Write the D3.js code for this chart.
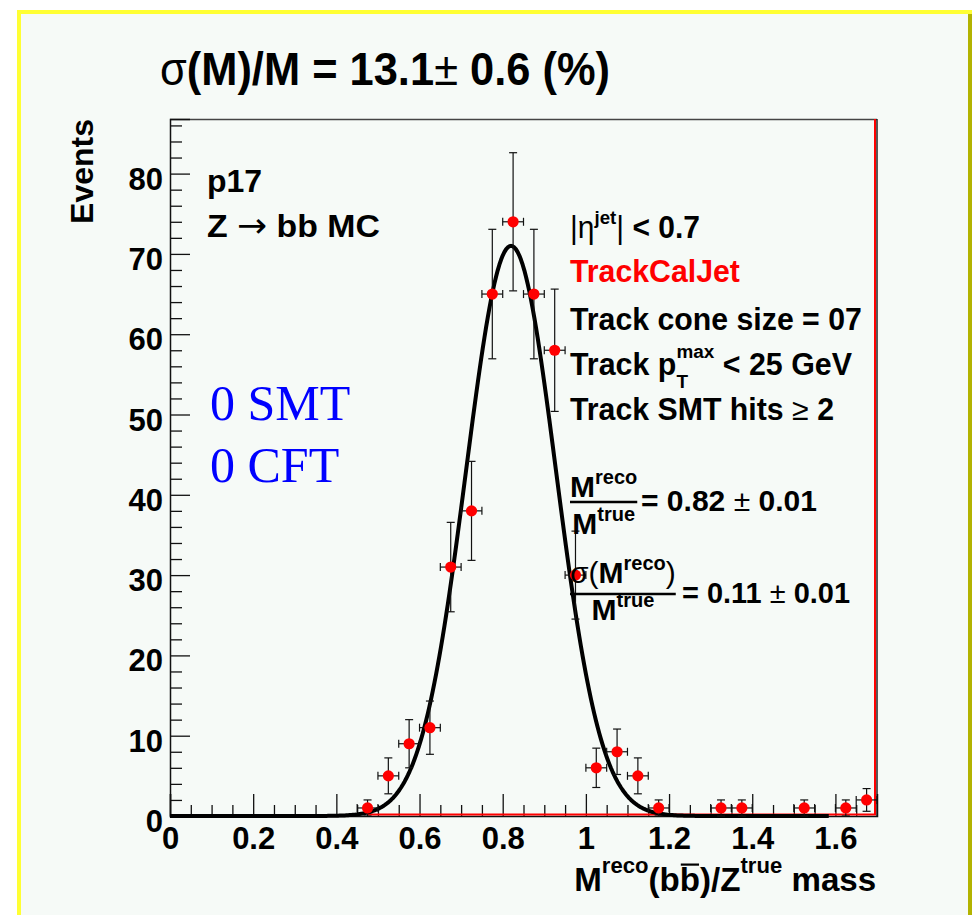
<!DOCTYPE html>
<html>
<head>
<meta charset="utf-8">
<script src="https://cdn.jsdelivr.net/npm/d3@7"></script>
<style>
  html, body { margin: 0; padding: 0; background: #ffffff; }
  svg { display: block; }
  text { white-space: pre; }
</style>
</head>
<body>
<svg id="chart" width="972" height="915"></svg>
<script>
// Reconstructed dijet mass ratio, Z -> bb MC, 0.05-wide bins
const binCenters = [0.475, 0.525, 0.575, 0.625, 0.675, 0.725, 0.775, 0.825, 0.875, 0.925,
                    0.975, 1.025, 1.075, 1.125, 1.175, 1.325, 1.375, 1.525, 1.625, 1.675];
const counts     = [1, 5, 9, 11, 31, 38, 65, 74, 65, 58,
                    30, 6, 8, 5, 1, 1, 1, 1, 1, 2];
const binHalfWidth = 0.025;

// Gaussian fit parameters
const fitAmplitude = 71;
const fitMean = 0.82;
const fitSigma = 0.108;
const fitRange = [0, 1.585];

// Axis ticks
const yMajorTicks = [0, 10, 20, 30, 40, 50, 60, 70, 80];
const yTickLabels = ["0", "10", "20", "30", "40", "50", "60", "70", "80"];
const xMajorTicks = [0, 0.2, 0.4, 0.6, 0.8, 1.0, 1.2, 1.4, 1.6];
const xTickLabels = ["0", "0.2", "0.4", "0.6", "0.8", "1", "1.2", "1.4", "1.6"];
const yMinorTicks = d3.range(2, 87, 2).filter(v => v % 10 !== 0);
const xMinorTicks = d3.range(1, 34).map(i => i * 0.05).filter(v => Math.abs(v * 5 - Math.round(v * 5)) > 1e-6);

const svg = d3.select("#chart");
const SANS = '"Liberation Sans", Arial, Helvetica, sans-serif';
const SERIF = '"Liberation Serif", "Times New Roman", serif';

// Canvas panel with bevelled border
svg.append("rect").attr("x", 17).attr("y", 10).attr("width", 955).attr("height", 905).attr("fill", "#f6faf7");
svg.append("line").attr("x1", 17).attr("x2", 972).attr("y1", 12).attr("y2", 12).attr("stroke", "#ffff33").attr("stroke-width", 4);
svg.append("line").attr("x1", 19).attr("x2", 19).attr("y1", 10).attr("y2", 915).attr("stroke", "#ffff33").attr("stroke-width", 4);
svg.append("line").attr("x1", 970).attr("x2", 970).attr("y1", 14).attr("y2", 915).attr("stroke", "#b3b300").attr("stroke-width", 4);

const x = d3.scaleLinear().domain([0, 1.7]).range([170, 877]);
const y = d3.scaleLinear().domain([0, 86.8]).range([816, 119]);

// Frame
svg.append("line").attr("x1", 170).attr("x2", 877).attr("y1", 119.5).attr("y2", 119.5).attr("stroke", "#444").attr("stroke-width", 1.5);
svg.append("line").attr("x1", 877).attr("x2", 877).attr("y1", 119).attr("y2", 817).attr("stroke", "#222").attr("stroke-width", 1.5);

// Y axis (ticks point into the plot)
const yAxisMajor = d3.axisLeft(y).tickValues(yMajorTicks).tickSize(-20).tickPadding(7)
  .tickFormat((d, i) => yTickLabels[i]);
const yAxisMinor = d3.axisLeft(y).tickValues(yMinorTicks).tickSize(-12).tickFormat("");
const gy = svg.append("g").attr("transform", "translate(170,0)").call(yAxisMajor);
svg.append("g").attr("transform", "translate(170,0)").call(yAxisMinor).select(".domain").remove();
gy.select(".domain").attr("stroke", "#111").attr("stroke-width", 1.5);
gy.selectAll(".tick text").style("font-family", SANS).attr("font-size", 31).attr("font-weight", "bold")
  .attr("fill", "#000").attr("dy", "0.5em");

// X axis
const xAxisMajor = d3.axisBottom(x).tickValues(xMajorTicks).tickSize(-22).tickPadding(11)
  .tickFormat((d, i) => xTickLabels[i]);
const xAxisMinor = d3.axisBottom(x).tickValues(xMinorTicks).tickSize(-11).tickFormat("");
const gx = svg.append("g").attr("transform", "translate(0,816)").call(xAxisMajor);
svg.append("g").attr("transform", "translate(0,816)").call(xAxisMinor).select(".domain").remove();
gx.select(".domain").attr("stroke", "#111").attr("stroke-width", 1.5);
gx.selectAll(".tick text").style("font-family", SANS).attr("font-size", 31).attr("font-weight", "bold").attr("fill", "#000");
svg.selectAll(".tick line").attr("stroke", "#111").attr("stroke-width", 1.3);

// Histogram outline (red) along the baseline and right edge
svg.append("path")
  .attr("d", `M${x(binCenters[0])},${y(0) - 1.5}H${x(1.7) - 2}V${y(86.8)}`)
  .attr("fill", "none").attr("stroke", "#ff0000").attr("stroke-width", 2);

// Gaussian fit curve
const fitX = d3.range(fitRange[0], fitRange[1] + 1e-9, 0.004);
const gauss = v => fitAmplitude * Math.exp(-((v - fitMean) ** 2) / (2 * fitSigma * fitSigma));
svg.append("path")
  .datum(fitX)
  .attr("d", d3.line().x(d => x(d)).y(d => y(gauss(d))))
  .attr("fill", "none").attr("stroke", "#000").attr("stroke-width", 4).attr("stroke-linejoin", "round");

// Data points with Poisson errors
const pts = binCenters.map((c, i) => ({ c, n: counts[i], e: Math.sqrt(counts[i]) }));
const eg = svg.append("g").attr("stroke", "#111").attr("stroke-width", 1.2);
pts.forEach(p => {
  const cx = x(p.c), cy = y(p.n);
  const yt = y(p.n + p.e), yb = y(Math.max(0, p.n - p.e));
  const xl = x(p.c - binHalfWidth), xr = x(p.c + binHalfWidth);
  eg.append("line").attr("x1", cx).attr("x2", cx).attr("y1", yt).attr("y2", yb);
  eg.append("line").attr("x1", cx - 4).attr("x2", cx + 4).attr("y1", yt).attr("y2", yt);
  eg.append("line").attr("x1", cx - 4).attr("x2", cx + 4).attr("y1", yb).attr("y2", yb);
  eg.append("line").attr("x1", xl).attr("x2", xr).attr("y1", cy).attr("y2", cy);
  eg.append("line").attr("x1", xl).attr("x2", xl).attr("y1", cy - 4).attr("y2", cy + 4);
  eg.append("line").attr("x1", xr).attr("x2", xr).attr("y1", cy - 4).attr("y2", cy + 4);
});
svg.append("g").selectAll("circle").data(pts).join("circle")
  .attr("cx", d => x(d.c)).attr("cy", d => y(d.n)).attr("r", 5.6).attr("fill", "#ff0000");

// Rich text helper: lays out runs left to right; "stack" runs share x with the next run
function richLine(parent, x0, y0, parts, size, fill) {
  const g = parent.append("g");
  let cx = x0, hold = 0;
  parts.forEach(p => {
    const fs = p.size || size;
    const t = g.append("text").attr("x", cx).attr("y", y0 + (p.dy || 0))
      .attr("font-size", fs)
      .attr("font-weight", p.weight || "bold")
      .attr("fill", p.fill || fill || "#000")
      .style("font-family", p.family || SANS)
      .text(p.t);
    const w = t.node().getComputedTextLength();
    if (p.over) {
      g.append("line").attr("x1", cx + 1).attr("x2", cx + w - 1)
        .attr("y1", y0 - fs * 0.8).attr("y2", y0 - fs * 0.8)
        .attr("stroke", p.fill || fill || "#000").attr("stroke-width", 2.2);
    }
    if (p.stack) { hold = Math.max(hold, w); }
    else { cx += Math.max(w, hold); hold = 0; }
  });
  return { g, width: cx - x0 };
}
function fitWidth(r, x0, target) {
  r.g.attr("transform", `translate(${x0},0) scale(${target / r.width},1) translate(${-x0},0)`);
}

// Title
const title = richLine(svg, 160, 85, [
  { t: "σ", weight: "normal" },
  { t: "(M)/M = 13.1" },
  { t: "±", weight: "normal" },
  { t: " 0.6 (%)" }
], 46);
fitWidth(title, 160, 450);

// Axis titles
svg.append("text").attr("transform", "translate(93,119) rotate(-90)").style("font-family", SANS)
  .attr("text-anchor", "end").attr("font-size", 32).attr("font-weight", "bold").text("Events");

const xt = richLine(svg, 0, 891, [
  { t: "M" },
  { t: "reco", size: 22, dy: -18 },
  { t: "(b" },
  { t: "b", over: true },
  { t: ")/Z" },
  { t: "true", size: 22, dy: -18 },
  { t: " mass" }
], 33);
xt.g.attr("transform", `translate(${875 - xt.width},0) scale(${302 / xt.width},1)`);

// Sample labels
richLine(svg, 207, 192, [{ t: "p17" }], 32);
const zl = richLine(svg, 207, 237, [{ t: "Z " }, { t: "→", weight: "normal", family: '"DejaVu Sans", sans-serif', size: 34 }, { t: " bb MC" }], 32);
fitWidth(zl, 207, 173);

// Selection summary
const tx = 570, ts = 30.5;
const l1 = richLine(svg, tx, 238, [
  { t: "|", weight: "normal" }, { t: "η", weight: "normal" },
  { t: "jet", size: 19, dy: -14 }, { t: "|", weight: "normal" }, { t: " < 0.7" }
], ts);
fitWidth(l1, tx, 130);
const l2 = richLine(svg, tx, 282, [{ t: "TrackCalJet" }], ts, "#ff0000");
fitWidth(l2, tx, 170);
const l3 = richLine(svg, tx, 330, [{ t: "Track cone size = 07" }], ts);
fitWidth(l3, tx, 292);
const l4 = richLine(svg, tx, 375, [
  { t: "Track p" }, { t: "max", size: 19, dy: -17, stack: true },
  { t: "T", size: 19, dy: 13 }, { t: " < 25 GeV" }
], ts);
fitWidth(l4, tx, 282);
const l5 = richLine(svg, tx, 420, [{ t: "Track SMT hits " }, { t: "≥", weight: "normal" }, { t: " 2" }], ts);
fitWidth(l5, tx, 264);

// Fit results as fractions
function fraction(x0, numY, barY, denY, num, den, rhsX, rhsY, rhs, rhsW) {
  const n = richLine(svg, x0, numY, num, 30);
  const d = richLine(svg, x0, denY, den, 30);
  const w = Math.max(n.width, d.width);
  n.g.attr("transform", `translate(${(w - n.width) / 2},0)`);
  d.g.attr("transform", `translate(${(w - d.width) / 2},0)`);
  svg.append("line").attr("x1", x0).attr("x2", x0 + w).attr("y1", barY).attr("y2", barY)
    .attr("stroke", "#000").attr("stroke-width", 2.5);
  const r = richLine(svg, rhsX, rhsY, rhs, 30);
  fitWidth(r, rhsX, rhsW);
}
fraction(570, 497, 502, 534,
  [{ t: "M" }, { t: "reco", size: 20, dy: -13 }],
  [{ t: "M" }, { t: "true", size: 20, dy: -13 }],
  641, 511, [{ t: "= 0.82 " }, { t: "±", weight: "normal" }, { t: " 0.01" }], 176);
fraction(570, 583, 594, 620,
  [{ t: "σ", weight: "normal" }, { t: "(", weight: "normal" }, { t: "M" }, { t: "reco", size: 20, dy: -13 }, { t: ")", weight: "normal" }],
  [{ t: "M" }, { t: "true", size: 20, dy: -13 }],
  682, 603, [{ t: "= 0.11 " }, { t: "±", weight: "normal" }, { t: " 0.01" }], 168);

// Detector configuration
svg.append("text").attr("x", 210).attr("y", 420).style("font-family", SERIF)
  .attr("font-size", 50).attr("fill", "#0000ff").text("0 SMT");
svg.append("text").attr("x", 210).attr("y", 482).style("font-family", SERIF)
  .attr("font-size", 50).attr("fill", "#0000ff").text("0 CFT");
</script>
</body>
</html>
